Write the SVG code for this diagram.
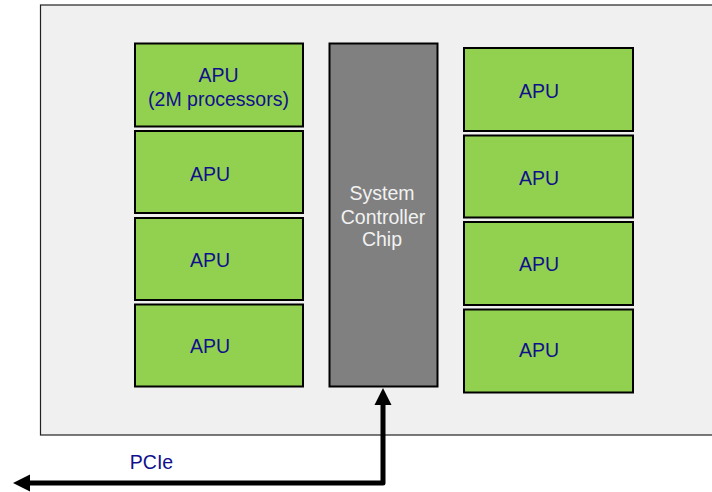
<svg xmlns="http://www.w3.org/2000/svg" width="712" height="492" viewBox="0 0 712 492">
<defs>
<style>
.apu{fill:#92D050;stroke:#000;stroke-width:2}
.t{font-family:"Liberation Sans",Arial,sans-serif;font-size:19.5px;fill:#10108C;text-anchor:middle}
.w{font-family:"Liberation Sans",Arial,sans-serif;font-size:19.5px;fill:#F2F2F2;text-anchor:middle}
</style>
</defs>
<rect width="712" height="492" fill="#fff"/>
<g id="board"><rect x="40.5" y="5" width="690" height="430" fill="#F0F0F0" stroke="#222" stroke-width="1.2"/></g>
<g id="apu-l1"><rect class="apu" x="135" y="43.5" width="168" height="83"/><text class="t" x="218.5" y="81.5">APU</text><text class="t" x="218.5" y="105.5">(2M processors)</text></g>
<g id="apu-l2"><rect class="apu" x="135" y="131" width="168" height="82"/><text class="t" x="210" y="180.5">APU</text></g>
<g id="apu-l3"><rect class="apu" x="135" y="218" width="168" height="82"/><text class="t" x="210" y="266.5">APU</text></g>
<g id="apu-l4"><rect class="apu" x="135" y="304.5" width="168" height="82"/><text class="t" x="210" y="352.5">APU</text></g>
<g id="chip"><rect x="329.5" y="43.5" width="108" height="343" fill="#808080" stroke="#000" stroke-width="2"/><text class="w" x="382" y="199.5">System</text><text class="w" x="383" y="223.5">Controller</text><text class="w" x="382" y="246">Chip</text></g>
<g id="apu-r1"><rect class="apu" x="464" y="48" width="169" height="83"/><text class="t" x="539" y="97.5">APU</text></g>
<g id="apu-r2"><rect class="apu" x="464" y="135.5" width="169" height="82"/><text class="t" x="539" y="185">APU</text></g>
<g id="apu-r3"><rect class="apu" x="464" y="222" width="169" height="83"/><text class="t" x="539" y="271">APU</text></g>
<g id="apu-r4"><rect class="apu" x="464" y="309.5" width="169" height="83"/><text class="t" x="539" y="357">APU</text></g>
<g id="connectors">
<path d="M383,397 L383,483 L24,483" fill="none" stroke="#000" stroke-width="5" stroke-linejoin="round"/>
<path d="M383,388 L374.5,405 L391.5,405 z" fill="#000"/>
<path d="M13,483 L30,474.5 L30,491.5 z" fill="#000"/>
<text class="t" x="151.5" y="469">PCIe</text>
</g>
</svg>
